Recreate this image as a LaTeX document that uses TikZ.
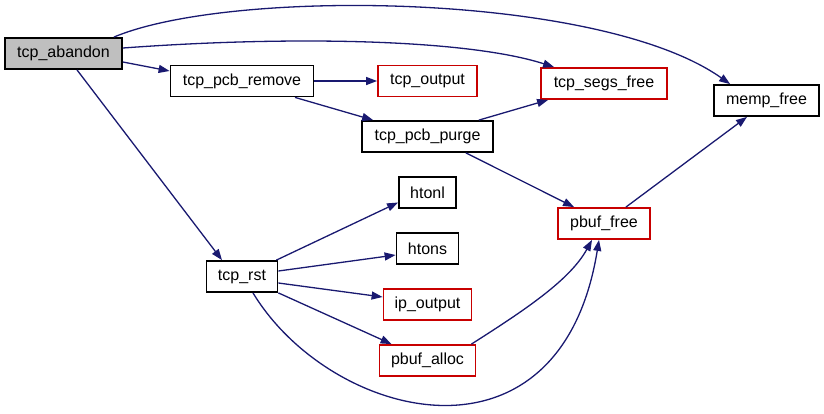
\documentclass[tikz,border=0pt]{standalone}
\usepackage{fontspec}
\setmainfont{Liberation Sans}
\usetikzlibrary{arrows.meta,positioning,calc}
\definecolor{callnavy}{RGB}{25,25,112}
\definecolor{linkred}{RGB}{200,0,0}
\definecolor{rootgray}{RGB}{191,191,191}
\tikzset{fn/.style={draw=black, fill=white, minimum height=31pt, inner sep=0pt,
             line width=1.8pt, font=\fontsize{16}{19}\selectfont},
         fnlink/.style={fn, draw=linkred},
         fnroot/.style={fn, fill=rootgray},
         call/.style={draw=callnavy, line width=1.3pt, -{Triangle[length=11pt,width=8pt]}}}

\begin{document}
\begin{tikzpicture}[x=1pt, y=-1pt]
          \useasboundingbox (0,0) rectangle (824,413);
          \node[fnroot, minimum width=117pt] (abandon) at ( 63.5, 53.5) {tcp\_abandon};
          \node[fn,     minimum width=143pt] (remove)  at (242.0, 81.0) {tcp\_pcb\_remove};
          \node[fnlink, minimum width=99pt]  (output)  at (427.5, 81.0) {tcp\_output};
          \node[fnlink, minimum width=126pt] (segs)    at (604.0, 83.5) {tcp\_segs\_free};
          \node[fn,     minimum width=105pt] (memp)    at (766.5,100.5) {memp\_free};
          \node[fn,     minimum width=131pt] (purge)   at (427.5,136.5) {tcp\_pcb\_purge};
          \node[fn,     minimum width=57pt]  (htonl)   at (427.5,192.5) {htonl};
          \node[fn,     minimum width=62pt]  (htons)   at (427.5,248.5) {htons};
          \node[fnlink, minimum width=92pt]  (pfree)   at (604.0,223.5) {pbuf\_free};
          \node[fn,     minimum width=71pt]  (rst)     at (242.0,276.5) {tcp\_rst};
          \node[fnlink, minimum width=88pt]  (ipout)   at (427.5,304.5) {ip\_output};
          \node[fnlink, minimum width=96pt]  (alloc)   at (427.5,360.5) {pbuf\_alloc};

          % calls from tcp_abandon
          \draw[call] ([xshift=-9pt]abandon.north east) .. controls (230,-12) and (600,-8) .. ([xshift=17pt]memp.north west);
          \draw[call] ([yshift=5.5pt]abandon.east) .. controls (300,35) and (470,40) .. ([xshift=14pt]segs.north west);
          \draw[call] ([yshift=-8.5pt]abandon.east) -- ([yshift=10pt]remove.west);
          \draw[call] ([xshift=13.5pt]abandon.south) -- ([xshift=-20pt]rst.north);

          % tcp_pcb_remove and tcp_pcb_purge
          \draw[call] (remove.east) -- (output.west);
          \draw[call] ([xshift=53pt]remove.south) -- ([xshift=12pt]purge.north west);
          \draw[call] ([xshift=-15pt]purge.north east) -- ([xshift=8pt]segs.south west);
          \draw[call] ([xshift=-28pt]purge.south east) -- ([xshift=17pt]pfree.north west);
          \draw[call] ([xshift=-25pt]pfree.north east) -- ([xshift=-19.5pt]memp.south);

          % calls from tcp_rst
          \draw[call] ([xshift=-2pt]rst.north east) -- ([yshift=-10pt]htonl.west);
          \draw[call] ([yshift=5.5pt]rst.east) -- ([yshift=-6.5pt]htons.west);
          \draw[call] ([yshift=-6.5pt]rst.east) -- ([yshift=7.5pt]ipout.west);
          \draw[call] (rst.south east) -- ([xshift=13pt]alloc.north west);
          \draw[call] ([xshift=11pt]rst.south) .. controls (330,420) and (560,480) .. ([xshift=-5pt]pfree.south);
          \draw[call] ([xshift=-5pt]alloc.north east) .. controls (525,310) and (570,280) .. ([xshift=-12pt]pfree.south);
        \end{tikzpicture}
\end{document}
